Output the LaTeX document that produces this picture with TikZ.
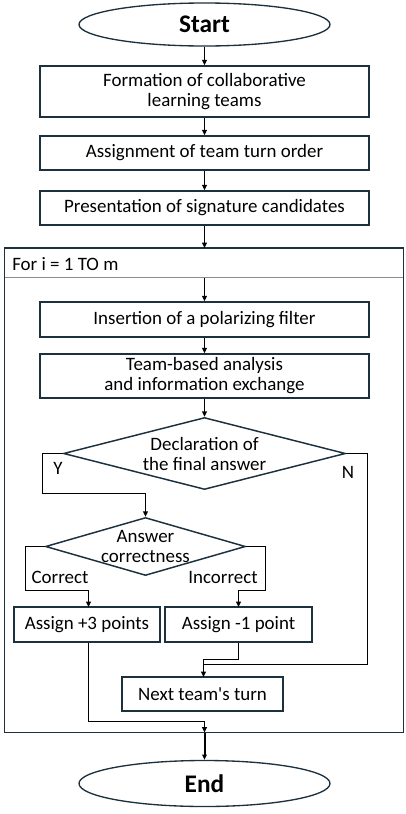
\documentclass[tikz,border=0pt]{standalone}
\usepackage{fontspec}
\setmainfont{Carlito}
\usetikzlibrary{shapes.geometric,arrows.meta}
\definecolor{frame}{RGB}{28,48,62}
\definecolor{hdr}{RGB}{140,140,140}
\newcommand\straightquote{{\XeTeXglyph\the\XeTeXcharglyph"27\relax}}
\begin{document}
\begin{tikzpicture}[x=0.75pt,y=-0.75pt,
  every node/.style={font=\fontsize{14.2}{15}\selectfont},
  box/.style={draw=frame,line width=1.1pt,rectangle,inner sep=0pt,align=center,minimum height=#1*0.75pt},
  box/.default=34,
  term/.style={draw=frame,line width=1pt,ellipse,inner sep=0pt,minimum width=251*0.75pt,font=\fontsize{19}{20}\selectfont\bfseries},
  dec/.style={draw=frame,line width=1.1pt,diamond,inner sep=0pt},
  conn/.style={draw=black,line width=1.05pt},
  arr/.style={conn,-{Triangle[length=4pt,width=3.5pt]}},
  lbl/.style={inner sep=0pt}
]
\useasboundingbox (0,0) rectangle (405,814);
% terminals
\node[term,minimum height=43*0.75pt] (start) at (204.5,24.5) {Start};
\node[term,minimum height=46*0.75pt] (end) at (204.5,783.5) {End};
% top boxes
\node[box=51,minimum width=329*0.75pt] (f1) at (204.5,91.5) {Formation of collaborative\\learning teams};
\node[box,minimum width=329*0.75pt] (f2) at (204.5,153) {Assignment of team turn order};
\node[box,minimum width=329*0.75pt] (f3) at (204.5,208) {Presentation of signature candidates};
% loop frame
\draw[frame,line width=1.1pt] (4.5,248) rectangle (403.5,732.5);
\draw[frame,line width=2pt] (3.8,248) -- (404.2,248);
\draw[hdr,line width=0.8pt] (5,277.5) -- (403,277.5);
\node[lbl,anchor=west] (loophead) at (12,264) {For i = 1 TO m};
\coordinate (looptop) at (204.5,248);
\coordinate (hdrline) at (204.5,277.5);
\coordinate (loopbot) at (204.5,732.5);
% inner boxes
\node[box=35,minimum width=329*0.75pt] (f4) at (204.5,319.5) {Insertion of a polarizing filter};
\node[box=44,minimum width=329*0.75pt] (f5) at (204.5,376) {Team-based analysis\\and information exchange};
\node[dec,minimum width=282*0.75pt,minimum height=72*0.75pt] (d1) at (204.5,453.5) {};
\node[lbl,align=center] (d1t) at (204.5,454) {Declaration of\\the final answer};
\node[dec,minimum width=200*0.75pt,minimum height=58*0.75pt] (d2) at (145.5,546.5) {};
\node[lbl,align=center] (d2t) at (145.5,546) {Answer\\correctness};
\node[box=35,minimum width=146*0.75pt] (f6) at (87,624.5) {Assign +3 points};
\node[box=35,minimum width=147*0.75pt] (f7) at (238.5,624.5) {Assign -1 point};
\node[box=34,minimum width=161*0.75pt] (f8) at (202.5,694) {Next team\straightquote s turn};
% labels
\node[lbl] (ly) at (58,468) {Y};
\node[lbl] (ln) at (348,472) {N};
\node[lbl] (lc) at (60,577) {Correct};
\node[lbl] (li) at (223,577) {Incorrect};
% connectors
\draw[arr] (start) -- (f1);
\draw[arr] (f1) -- (f2);
\draw[arr] (f2) -- (f3);
\draw[arr] (f3) -- (looptop);
\draw[arr] (hdrline) -- (f4);
\draw[arr] (f4) -- (f5);
\draw[arr] (f5) -- (d1);
\draw[arr] (d1.west) -- (42.5,453.5) -- (42.5,493.5) -- (145.5,493.5) -- (d2.north);
\draw[conn] (d1.east) -- (367.5,453.5) -- (367.5,664.5) -- (203.5,664.5);
\draw[arr] (d2.west) -- (25.5,546.5) -- (25.5,590.5) -- (88.5,590.5) -- (88.5,607);
\draw[arr] (d2.east) -- (265.5,546.5) -- (265.5,590.5) -- (238.5,590.5) -- (238.5,607);
\draw[arr] (f7.south -| 238.5,0) -- (238.5,659.5) -- (203.5,659.5) -- (203.5,677);
\draw[arr] (f6.south -| 88.5,0) -- (88.5,721.5) -- (204.5,721.5) -- (loopbot);
\draw[arr,line width=1.5pt] (loopbot) -- (end);
\end{tikzpicture}
\end{document}
